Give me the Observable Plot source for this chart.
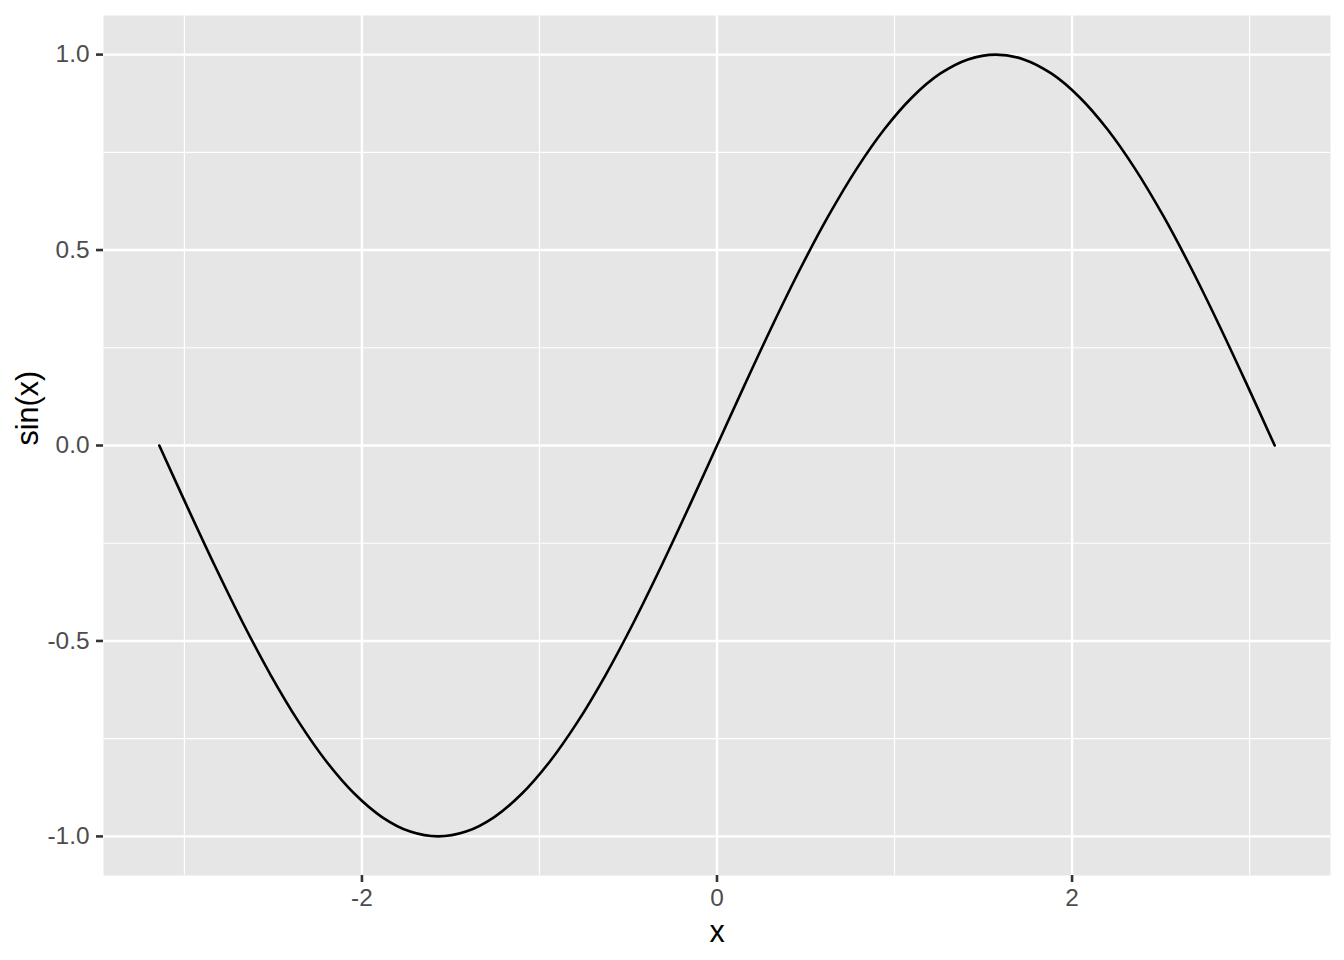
<!DOCTYPE html>
<html>
<head>
<meta charset="utf-8">
<script src="https://cdn.jsdelivr.net/npm/d3@7"></script>
<script src="https://cdn.jsdelivr.net/npm/@observablehq/plot@0.6"></script>
<style>
  html, body { margin: 0; padding: 0; background: #ffffff; }
</style>
</head>
<body>
<div id="chart"></div>
<script>
const xValues = [
  -3.1416, -2.9845, -2.8274, -2.6704, -2.5133, -2.3562, -2.1991, -2.0420, -1.8850, -1.7279,
  -1.5708, -1.4137, -1.2566, -1.0996, -0.9425, -0.7854, -0.6283, -0.4712, -0.3142, -0.1571,
  0.0000, 0.1571, 0.3142, 0.4712, 0.6283, 0.7854, 0.9425, 1.0996, 1.2566, 1.4137,
  1.5708, 1.7279, 1.8850, 2.0420, 2.1991, 2.3562, 2.5133, 2.6704, 2.8274, 2.9845, 3.1416
];
const yValues = [
  0.0000, -0.1564, -0.3090, -0.4540, -0.5878, -0.7071, -0.8090, -0.8910, -0.9511, -0.9877,
  -1.0000, -0.9877, -0.9511, -0.8910, -0.8090, -0.7071, -0.5878, -0.4540, -0.3090, -0.1564,
  0.0000, 0.1564, 0.3090, 0.4540, 0.5878, 0.7071, 0.8090, 0.8910, 0.9511, 0.9877,
  1.0000, 0.9877, 0.9511, 0.8910, 0.8090, 0.7071, 0.5878, 0.4540, 0.3090, 0.1564, 0.0000
];
const xMajorTicks = [-2, 0, 2];
const xMinorTicks = [-3, -1, 1, 3];
const yMajorTicks = [-1.0, -0.5, 0.0, 0.5, 1.0];
const yMinorTicks = [-0.75, -0.25, 0.25, 0.75];
const xTitle = "x";
const yTitle = "sin(x)";

const data = xValues.map((x, i) => ({x, y: yValues[i]}));

const chart = Plot.plot({
  width: 1344,
  height: 960,
  marginLeft: 103,
  marginRight: 14,
  marginTop: 15,
  marginBottom: 85,
  style: {fontFamily: "'Liberation Sans', Arial, Helvetica, sans-serif", background: "#ffffff"},
  x: {domain: [-3.4558, 3.4558]},
  y: {domain: [-1.1, 1.1]},
  marks: [
    Plot.frame({fill: "#e6e6e6", stroke: null}),
    Plot.gridX(xMinorTicks, {stroke: "#ffffff", strokeOpacity: 1, strokeWidth: 1.2}),
    Plot.gridY(yMinorTicks, {stroke: "#ffffff", strokeOpacity: 1, strokeWidth: 1.2}),
    Plot.gridX(xMajorTicks, {stroke: "#ffffff", strokeOpacity: 1, strokeWidth: 2.4}),
    Plot.gridY(yMajorTicks, {stroke: "#ffffff", strokeOpacity: 1, strokeWidth: 2.4}),
    Plot.line(data, {x: "x", y: "y", stroke: "#000000", strokeWidth: 2.6, curve: "catmull-rom"}),
    Plot.axisX(xMajorTicks, {
      tickSize: 7, tickPadding: 6, stroke: "#333333", strokeWidth: 2.6,
      fill: "#4d4d4d", fontSize: 24.4, tickFormat: d => String(d), label: null
    }),
    Plot.axisY(yMajorTicks, {
      tickSize: 7, tickPadding: 7, stroke: "#333333", strokeWidth: 2.6,
      fill: "#4d4d4d", fontSize: 24.4, tickFormat: d => d.toFixed(1), label: null
    }),
    Plot.text([xTitle], {frameAnchor: "bottom", dy: 57, fontSize: 30.5, fill: "#000000", lineAnchor: "middle"}),
    Plot.text([yTitle], {frameAnchor: "left", dx: -75, rotate: -90, fontSize: 30.5, fill: "#000000", lineAnchor: "middle"})
  ]
});
document.getElementById("chart").appendChild(chart);
</script>
</body>
</html>
